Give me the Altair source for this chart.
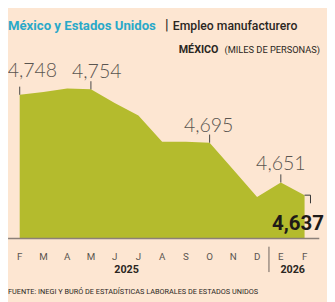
import altair as alt
import pandas as pd

months = ["F", "M", "A", "M", "J", "J", "A", "S", "O", "N", "D", "E", "F"]
values = [4748, 4751, 4755, 4754, 4739, 4725, 4696, 4696, 4695, 4665, 4635, 4651, 4637]
label_idx = [0, 3, 8, 11]
years = ["2025", "2026"]
year_pos = [4.5, 11.5]

BG = "#fde6d2"
GREEN = "#b4bb2d"
CYAN = "#2aa9c9"
DARK = "#2b2622"
GRAY = "#5a5550"
FONT = "Roboto"

df = pd.DataFrame({"i": list(range(len(values))), "v": values, "m": months})
df["lab"] = df["v"].map(lambda v: f"{v:,}")

xs = alt.Scale(domain=[0, 12], range=[12, 304])
ys = alt.Scale(domain=[4589, 4830])
BASE = 4589

base = alt.Chart(df)

area = base.mark_area(color=GREEN, opacity=1).encode(
    x=alt.X("i:Q", scale=xs, axis=None),
    y=alt.Y("v:Q", scale=ys, axis=None),
    y2=alt.datum(BASE),
)

month_txt = base.mark_text(font=FONT, fontSize=10, color=GRAY, baseline="middle").encode(
    x=alt.X("i:Q", scale=xs), y=alt.value(252), text="m:N")

axis_line = alt.Chart(pd.DataFrame({"a": [-0.49], "b": [12.62]})).mark_rule(
    color="#8c8078", strokeWidth=1.5).encode(
    x=alt.X("a:Q", scale=xs), x2="b:Q", y=alt.datum(BASE))

sep = alt.Chart(pd.DataFrame({"a": [10.5]})).mark_rule(color="#6a625c", strokeWidth=1).encode(
    x=alt.X("a:Q", scale=xs), y=alt.value(241), y2=alt.value(267))

tdf = df[df["i"].isin(label_idx)].copy()
tdf["v2"] = tdf["v"] + 9
ticks = alt.Chart(tdf).mark_rule(color="#444", strokeWidth=1).encode(
    x=alt.X("i:Q", scale=xs), y=alt.Y("v:Q", scale=ys), y2="v2:Q")

offs = {0: (13, -18), 3: (6, -12), 8: (-1, -11), 11: (0, -13)}
labels = []
for k in label_idx:
    dx, dy = offs[k]
    labels.append(
        base.transform_filter(f"datum.i == {k}").mark_text(
            font="Lato", fontWeight=300, fontSize=20, color=GRAY, dx=dx, dy=dy,
            align="center", baseline="alphabetic").encode(
            x=alt.X("i:Q", scale=xs), y=alt.Y("v:Q", scale=ys), text="lab:N"))

last = df.iloc[[-1]].copy()
last["xe"] = 12.25
last["ve"] = last["v"] - 9
br_h = alt.Chart(last).mark_rule(color="#333", strokeWidth=1).encode(
    x=alt.X("i:Q", scale=xs), x2="xe:Q", y=alt.Y("v:Q", scale=ys))
br_v = alt.Chart(last).mark_rule(color="#333", strokeWidth=1).encode(
    x=alt.X("xe:Q", scale=xs), y=alt.Y("v:Q", scale=ys), y2="ve:Q")
last_lab = alt.Chart(last).mark_text(
    font=FONT, fontWeight="bold", fontSize=21, color="#1e1a17", align="right",
    baseline="alphabetic", dx=20, dy=36).encode(
    x=alt.X("i:Q", scale=xs), y=alt.Y("v:Q", scale=ys), text="lab:N")

ydf = pd.DataFrame({"p": year_pos, "t": years})
year_txt = alt.Chart(ydf).mark_text(
    font=FONT, fontWeight="bold", fontSize=11, color=DARK, baseline="middle").encode(
    x=alt.X("p:Q", scale=xs), y=alt.value(265), text="t:N")

def txt(s, x, y, **kw):
    return alt.Chart(pd.DataFrame({"t": [s]})).mark_text(align="left", baseline="alphabetic", **kw).encode(
        x=alt.value(x), y=alt.value(y), text="t:N")

t1 = txt("México y Estados Unidos", 0, 19, font=FONT, fontWeight="bold", fontSize=13.5, color=CYAN)
t2 = txt("|", 161, 19, font=FONT, fontSize=15, color=DARK)
t3 = txt("Empleo manufacturero", 169, 19, font=FONT, fontWeight=500, fontSize=12.5, color=DARK)
t4 = txt("MÉXICO", 175, 42, font=FONT, fontWeight="bold", fontSize=11, color=DARK)
t5 = txt("(MILES DE PERSONAS)", 222, 42, font=FONT, fontSize=9.5, color=DARK)
src = txt("FUENTE: INEGI Y BURÓ DE ESTADÍSTICAS LABORALES DE ESTADOS UNIDOS", 0, 289,
          font=FONT, fontSize=7.5, color=DARK)

chart = alt.layer(area, axis_line, sep, ticks, *labels, br_h, br_v, last_lab, month_txt, year_txt,
                  t1, t2, t3, t4, t5, src).properties(
    width=327, height=241, background=BG,
    autosize=alt.AutoSizeParams(type="none"),
    padding={"left": 0, "top": 0, "right": 0, "bottom": 53},
).configure_view(stroke=None)

chart.save("out.html", embed_options={"renderer": "svg", "actions": False})
